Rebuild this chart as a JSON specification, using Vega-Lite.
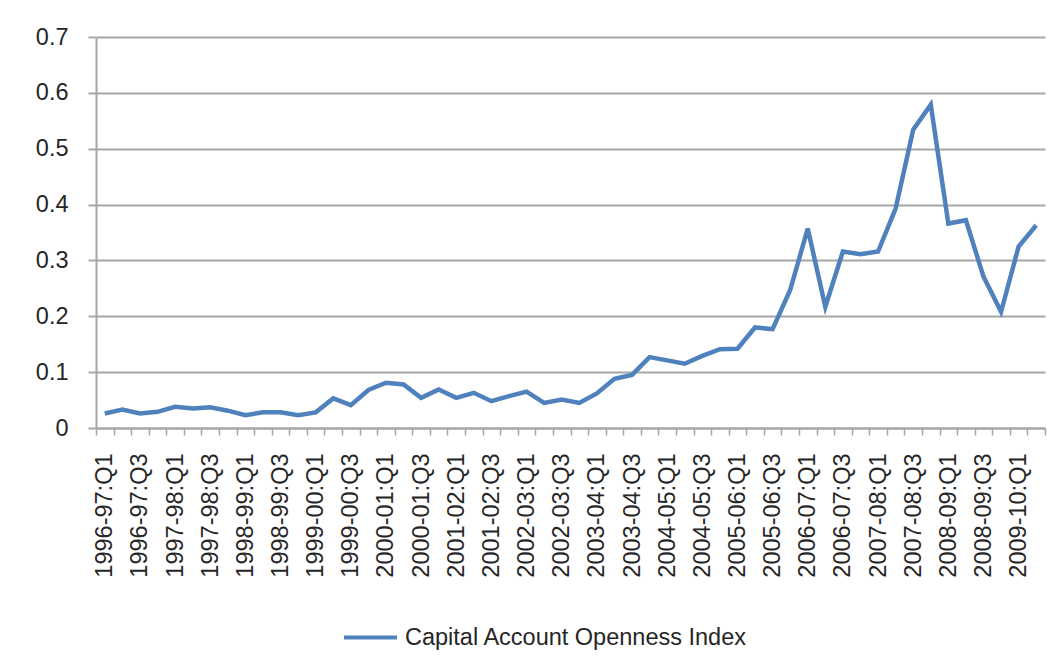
{
  "$schema": "https://vega.github.io/schema/vega-lite/v6.json",
  "width": 949,
  "height": 391,
  "autosize": "none",
  "padding": {"left": 96, "top": 37, "right": 17, "bottom": 242},
  "background": "white",
  "config": {
    "view": {"stroke": null},
    "font": "Liberation Sans"
  },
  "data": {
    "values": [
      {"quarter": "1996-97:Q1", "value": 0.026},
      {"quarter": "1996-97:Q2", "value": 0.033},
      {"quarter": "1996-97:Q3", "value": 0.026},
      {"quarter": "1996-97:Q4", "value": 0.029},
      {"quarter": "1997-98:Q1", "value": 0.038},
      {"quarter": "1997-98:Q2", "value": 0.035},
      {"quarter": "1997-98:Q3", "value": 0.037},
      {"quarter": "1997-98:Q4", "value": 0.031},
      {"quarter": "1998-99:Q1", "value": 0.023},
      {"quarter": "1998-99:Q2", "value": 0.028},
      {"quarter": "1998-99:Q3", "value": 0.028},
      {"quarter": "1998-99:Q4", "value": 0.023},
      {"quarter": "1999-00:Q1", "value": 0.028},
      {"quarter": "1999-00:Q2", "value": 0.053},
      {"quarter": "1999-00:Q3", "value": 0.041},
      {"quarter": "1999-00:Q4", "value": 0.068},
      {"quarter": "2000-01:Q1", "value": 0.081},
      {"quarter": "2000-01:Q2", "value": 0.078},
      {"quarter": "2000-01:Q3", "value": 0.054},
      {"quarter": "2000-01:Q4", "value": 0.069},
      {"quarter": "2001-02:Q1", "value": 0.054},
      {"quarter": "2001-02:Q2", "value": 0.063},
      {"quarter": "2001-02:Q3", "value": 0.048},
      {"quarter": "2001-02:Q4", "value": 0.057},
      {"quarter": "2002-03:Q1", "value": 0.065},
      {"quarter": "2002-03:Q2", "value": 0.045},
      {"quarter": "2002-03:Q3", "value": 0.051},
      {"quarter": "2002-03:Q4", "value": 0.045},
      {"quarter": "2003-04:Q1", "value": 0.062},
      {"quarter": "2003-04:Q2", "value": 0.088},
      {"quarter": "2003-04:Q3", "value": 0.095},
      {"quarter": "2003-04:Q4", "value": 0.127},
      {"quarter": "2004-05:Q1", "value": 0.121},
      {"quarter": "2004-05:Q2", "value": 0.115},
      {"quarter": "2004-05:Q3", "value": 0.129},
      {"quarter": "2004-05:Q4", "value": 0.141},
      {"quarter": "2005-06:Q1", "value": 0.142},
      {"quarter": "2005-06:Q2", "value": 0.180},
      {"quarter": "2005-06:Q3", "value": 0.177},
      {"quarter": "2005-06:Q4", "value": 0.247},
      {"quarter": "2006-07:Q1", "value": 0.357},
      {"quarter": "2006-07:Q2", "value": 0.217},
      {"quarter": "2006-07:Q3", "value": 0.316},
      {"quarter": "2006-07:Q4", "value": 0.311},
      {"quarter": "2007-08:Q1", "value": 0.316},
      {"quarter": "2007-08:Q2", "value": 0.393},
      {"quarter": "2007-08:Q3", "value": 0.534},
      {"quarter": "2007-08:Q4", "value": 0.579},
      {"quarter": "2008-09:Q1", "value": 0.366},
      {"quarter": "2008-09:Q2", "value": 0.372},
      {"quarter": "2008-09:Q3", "value": 0.271},
      {"quarter": "2008-09:Q4", "value": 0.208},
      {"quarter": "2009-10:Q1", "value": 0.325},
      {"quarter": "2009-10:Q2", "value": 0.363}
    ]
  },
  "mark": {"type": "line", "strokeWidth": 4.5, "strokeJoin": "miter"},
  "encoding": {
    "x": {
      "field": "quarter",
      "type": "ordinal",
      "sort": null,
      "scale": {"type": "band", "paddingInner": 0, "paddingOuter": 0},
      "axis": {
        "title": null,
        "tickBand": "extent",
        "grid": false,
        "labelAngle": -90,
        "labelAlign": "right",
        "labelBaseline": "middle",
        "labelOverlap": false,
        "labelExpr": "test(/Q[13]$/, datum.value) ? datum.value : ''",
        "labelFontSize": 23.5,
        "labelColor": "#262626",
        "labelPadding": 18,
        "tickSize": 7,
        "tickColor": "#a6a6a6",
        "tickWidth": 1.5,
        "domainColor": "#a6a6a6",
        "domainWidth": 2
      }
    },
    "y": {
      "field": "value",
      "type": "quantitative",
      "scale": {"domain": [0, 0.7], "nice": false},
      "axis": {
        "title": null,
        "values": [0, 0.1, 0.2, 0.3, 0.4, 0.5, 0.6, 0.7],
        "format": ".1~f",
        "labelFontSize": 23.5,
        "labelColor": "#262626",
        "labelPadding": 20,
        "tickSize": 8,
        "tickColor": "#a6a6a6",
        "tickWidth": 2,
        "domainColor": "#a6a6a6",
        "domainWidth": 2,
        "grid": true,
        "gridColor": "#a6a6a6",
        "gridWidth": 2
      }
    },
    "color": {
      "datum": "Capital Account Openness Index",
      "type": "nominal",
      "scale": {"range": ["#4F81BD"]},
      "legend": {
        "title": null,
        "orient": "none",
        "legendX": 246,
        "legendY": 572,
        "direction": "horizontal",
        "symbolType": "stroke",
        "symbolSize": 2809,
        "symbolStrokeWidth": 4,
        "labelFontSize": 23.5,
        "labelLimit": 0,
        "labelColor": "#262626",
        "labelOffset": 6
      }
    }
  }
}
